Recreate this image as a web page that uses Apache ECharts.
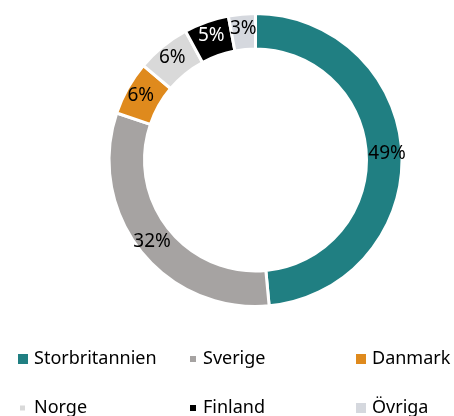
<!DOCTYPE html>
<html>
<head>
<meta charset="utf-8">
<script src="https://cdn.jsdelivr.net/npm/echarts@6/dist/echarts.min.js"></script>
<style>
html,body{margin:0;padding:0;background:#fff;}
#c{width:454px;height:416px;}
</style>
</head>
<body>
<div id="c"></div>
<script>
const categories = ['Storbritannien', 'Sverige', 'Danmark', 'Norge', 'Finland', 'Övriga'];
const values = [49, 32, 6, 6, 5, 3];
const colors = ['#207f82', '#a6a3a2', '#df8a1d', '#d9d9d9', '#000000', '#d5d8de'];
const labelColors = ['#000000', '#000000', '#000000', '#000000', '#ffffff', '#000000'];

const FONT = '"Noto Sans", "Open Sans", sans-serif';
const legendPos = [
  {left: 16, top: 350, size: 12, pad: 0},
  {left: 188, top: 350, size: 8, pad: 1},
  {left: 354, top: 350, size: 12, pad: 0},
  {left: 18, top: 399, size: 7, pad: 3},
  {left: 188, top: 399, size: 8, pad: 1},
  {left: 354, top: 399, size: 12, pad: 0}
];

const legends = categories.map((name, i) => ({
  data: [name],
  left: legendPos[i].left,
  top: legendPos[i].top,
  icon: 'rect',
  itemWidth: legendPos[i].size,
  itemHeight: legendPos[i].size,
  itemGap: 0,
  padding: 0,
  selectedMode: false,
  textStyle: {fontFamily: FONT, fontSize: 18, color: '#000', padding: [0, 0, 0, legendPos[i].pad]}
}));

const chart = echarts.init(document.getElementById('c'), null, {renderer: 'canvas'});
chart.setOption({
  animation: false,
  color: colors,
  legend: legends,
  series: [{
    type: 'pie',
    center: [255.5, 160],
    radius: [111, 146.5],
    startAngle: 90,
    clockwise: true,
    avoidLabelOverlap: false,
    itemStyle: {borderColor: '#fff', borderWidth: 3},
    label: {
      show: true,
      position: 'inside',
      fontFamily: FONT,
      fontSize: 19,
      formatter: p => p.value + '%'
    },
    labelLine: {show: false},
    emphasis: {disabled: true},
    data: categories.map((name, i) => ({
      name: name,
      value: values[i],
      label: {color: labelColors[i]}
    }))
  }]
});
</script>
</body>
</html>
